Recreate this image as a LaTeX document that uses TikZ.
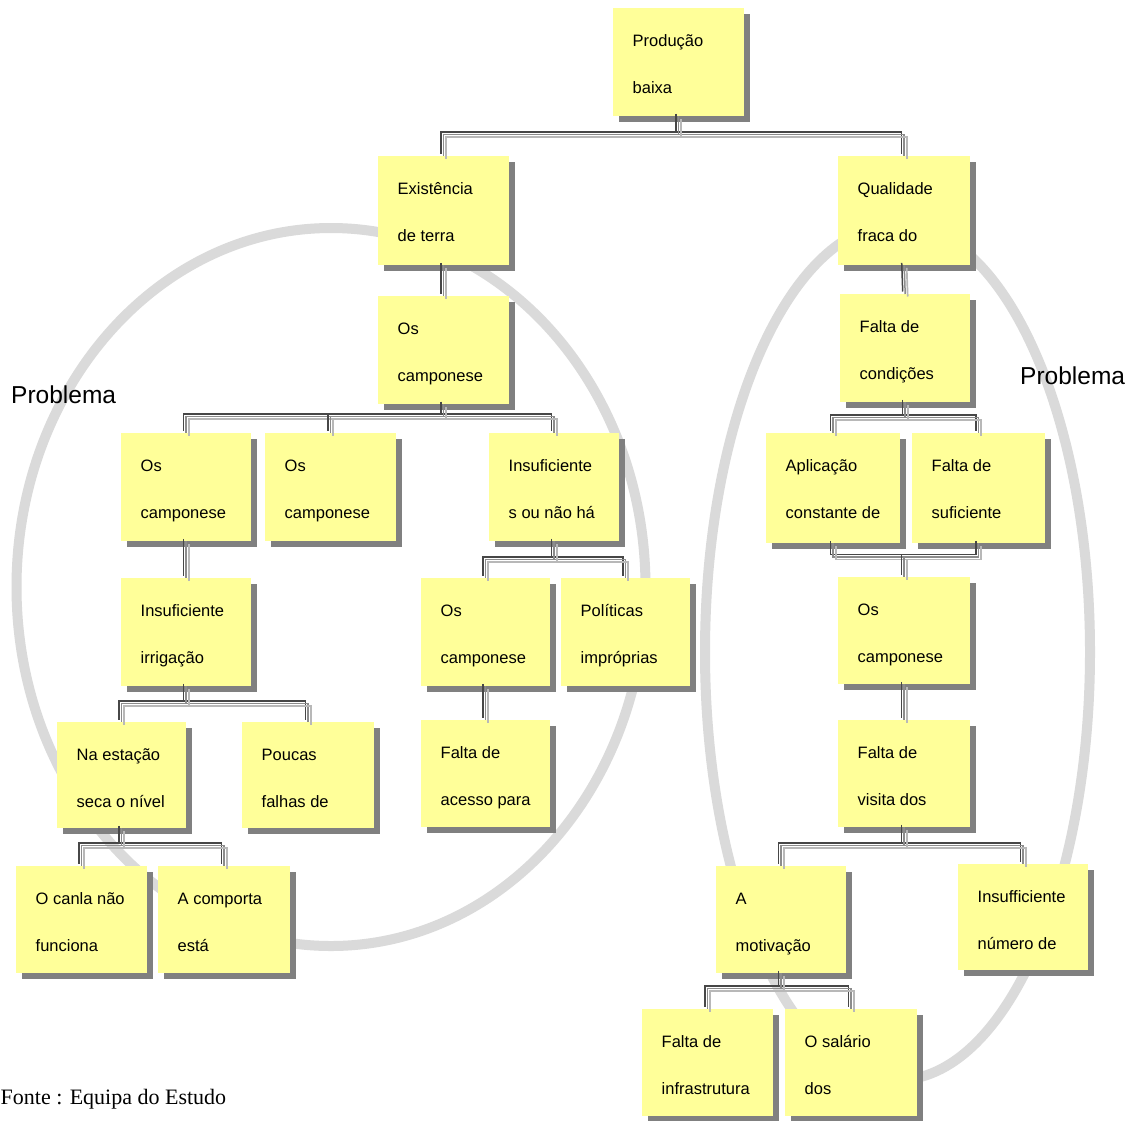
\documentclass[tikz,border=0pt]{standalone}
\usepackage{fontspec}
\setmainfont{Liberation Sans}
\newfontfamily\notefont{Liberation Serif}
\usetikzlibrary{shadows}

\definecolor{cardfill}{HTML}{FFFF99}
\definecolor{cardshade}{HTML}{808080}
\definecolor{ringgray}{HTML}{DADADA}
\definecolor{linkdark}{HTML}{474747}
\definecolor{linkmid}{HTML}{8C8C8C}
\definecolor{linklight}{HTML}{B8B8B8}

\tikzset{
  card/.style={rectangle, fill=cardfill, inner sep=0pt, anchor=north west,
    general shadow={fill=cardshade, shadow xshift=5.5pt, shadow yshift=-5.5pt}},
  cardtxt/.style={anchor=base west, inner sep=0pt, font=\fontsize{16.5}{18}\selectfont},
  ring/.style={draw=ringgray, line width=10pt},
  ringlabel/.style={anchor=base west, inner sep=0pt, font=\fontsize{24.5}{28}\selectfont},
  lkdark/.style={draw=linkdark, line width=1.5pt, transform canvas={shift={(-2.5pt,2.5pt)}}},
  lkmid/.style={draw=linkmid, line width=1.5pt},
  lklight/.style={draw=linklight, line width=1.7pt, transform canvas={shift={(2.5pt,-2.5pt)}}},
}

% a sticky-note card: name, left, top, width, height, first line, second line
\newcommand{\card}[7]{%
  \node[card, minimum width=#4pt, minimum height=#5pt] (#1) at (#2,#3) {};
  \node[cardtxt] (#1-a) at ([shift={(19.5pt,-38.5pt)}]#1.north west) {#6};
  \node[cardtxt] (#1-b) at ([shift={(19.5pt,-85.5pt)}]#1.north west) {#7};
}
% a bevelled connector: the same path stroked three times
\newcommand{\bevel}[1]{%
  \foreach \lk in {lkdark,lkmid,lklight} {\draw[\lk] #1;}
}

\begin{document}
\begin{tikzpicture}[x=1pt, y=-1pt]
  \fill[white] (0,0) rectangle (1134,1120);
  \useasboundingbox (0,0) rectangle (1134,1120);

  % problem groupings
  \draw[ring] (331,587) ellipse [x radius=314.5pt, y radius=359pt];
  \draw[ring] (897.5,652) ellipse [x radius=192.5pt, y radius=428pt];
  \node[ringlabel] (probL) at (11,403) {Problema};
  \node[ringlabel] (probR) at (1020,384.5) {Problema};

  % cards
  \card{n1}{613}{8}{131}{108}{Produção}{baixa}
  \card{n2}{378}{156}{131}{109}{Existência}{de terra}
  \card{n3}{838}{156}{132}{109}{Qualidade}{fraca do}
  \card{n4}{378}{296}{131}{108}{Os}{camponese}
  \card{n5}{840}{294}{130}{108}{Falta de}{condições}
  \card{n6}{121}{433}{130}{108}{Os}{camponese}
  \card{n7}{265}{433}{131}{108}{Os}{camponese}
  \card{n8}{489}{433}{130}{108}{Insuficiente}{s ou não há}
  \card{n9}{766}{433}{134}{110}{Aplicação}{constante de}
  \card{n10}{912}{433}{133}{110}{Falta de}{suficiente}
  \card{n11}{121}{578}{130}{108}{Insuficiente}{irrigação}
  \card{n12}{421}{578}{129}{108}{Os}{camponese}
  \card{n13}{561}{578}{129}{108}{Políticas}{impróprias}
  \card{n14}{838}{577}{132}{107}{Os}{camponese}
  \card{n15}{57}{722}{129}{106}{Na estação}{seca o nível}
  \card{n16}{242}{722}{132}{106}{Poucas}{falhas de}
  \card{n17}{421}{720}{129}{107}{Falta de}{acesso para}
  \card{n18}{838}{720}{132}{107}{Falta de}{visita dos}
  \card{n19}{16}{866}{131}{107}{O canla não}{funciona}
  \card{n20}{158}{866}{132}{107}{A comporta}{está}
  \card{n21}{716}{866}{130}{107}{A}{motivação}
  \card{n22}{958}{864}{130}{106}{Insufficiente}{número de}
  \card{n23}{642}{1009}{131}{107}{Falta de}{infrastrutura}
  \card{n24}{785}{1009}{132}{107}{O salário}{dos}

  % bus levels of the branching connectors
  \coordinate (busA) at (0,134.5);
  \coordinate (busD) at (0,416.5);
  \coordinate (busE) at (0,417.5);
  \coordinate (busF) at (0,557);
  \coordinate (busH) at (0,559.5);
  \coordinate (busI) at (0,703.5);
  \coordinate (busL) at (0,845.5);
  \coordinate (busM) at (0,845.5);
  \coordinate (busN) at (0,988.5);

  % connectors
  \bevel{(n1.south) -- (n1.south |- busA) -| (n2.north)}
  \bevel{(n1.south) -- (n1.south |- busA) -| (n3.north)}
  \bevel{(n2.south) -- (n4.north)}
  \bevel{(n3.south) -- (n5.north)}
  \bevel{(n4.south) -- (n4.south |- busD) -| (n6.north)}
  \bevel{(n4.south) -- (n4.south |- busD) -| (n7.north)}
  \bevel{(n4.south) -- (n4.south |- busD) -| (n8.north)}
  \bevel{(n5.south) -- (n5.south |- busE) -| (n9.north)}
  \bevel{(n5.south) -- (n5.south |- busE) -| (n10.north)}
  \bevel{(n9.south) -- (n9.south |- busF) -| (n14.north)}
  \bevel{(n10.south) -- (n10.south |- busF) -| (n14.north)}
  \bevel{(n6.south) -- (n11.north)}
  \bevel{(n8.south) -- (n8.south |- busH) -| (n12.north)}
  \bevel{(n8.south) -- (n8.south |- busH) -| (n13.north)}
  \bevel{(n11.south) -- (n11.south |- busI) -| (n15.north)}
  \bevel{(n11.south) -- (n11.south |- busI) -| (n16.north)}
  \bevel{(n12.south) -- (n17.north)}
  \bevel{(n14.south) -- (n18.north)}
  \bevel{(n15.south) -- (n15.south |- busL) -| (n19.north)}
  \bevel{(n15.south) -- (n15.south |- busL) -| (n20.north)}
  \bevel{(n18.south) -- (n18.south |- busM) -| (n21.north)}
  \bevel{(n18.south) -- (n18.south |- busM) -| (n22.north)}
  \bevel{(n21.south) -- (n21.south |- busN) -| (n23.north)}
  \bevel{(n21.south) -- (n21.south |- busN) -| (n24.north)}

  % source note
  \node[anchor=base west, inner sep=0pt, font=\notefont\fontsize{22}{26}\selectfont] (src) at (0.5,1104) {Fonte : Equipa do Estudo};
\end{tikzpicture}
\end{document}
